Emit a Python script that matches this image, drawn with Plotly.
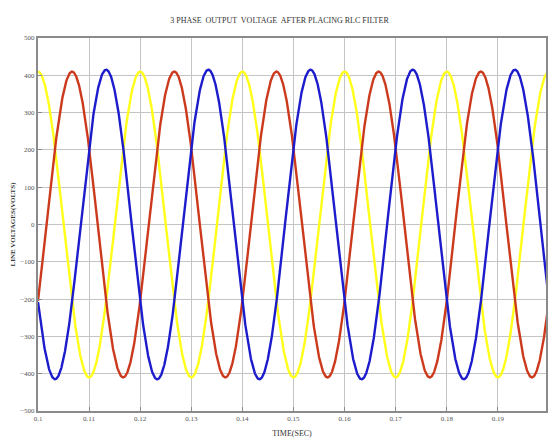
import numpy as np
import plotly.graph_objects as go

# Data: 50 Hz three-phase line voltages
freq_hz = 50
t_start, t_end = 0.1, 0.2
phase_names = ["Phase A", "Phase B", "Phase C"]
amplitudes = [410, 410, 415]           # peak volts (yellow, red, blue)
phase_deg = [0, -120, 120]             # phase relative to t = 0.1 s
colors = ["#ffff1a", "#cc3a1e", "#1c1ccc"]

x_ticks = [0.1, 0.11, 0.12, 0.13, 0.14, 0.15, 0.16, 0.17, 0.18, 0.19, 0.2]
x_tick_text = ["0.1", "0.11", "0.12", "0.13", "0.14", "0.15", "0.16", "0.17", "0.18", "0.19", "0.2"]
y_ticks = [500, 400, 300, 200, 100, 0, -100, -200, -300, -400, -500]

t = np.linspace(t_start, t_end, 2001)

fig = go.Figure()
for name, amp, ph, col in zip(phase_names, amplitudes, phase_deg, colors):
    v = amp * np.cos(2 * np.pi * freq_hz * (t - t_start) + np.deg2rad(ph))
    fig.add_trace(go.Scatter(x=t, y=v, mode="lines", name=name,
                             line=dict(color=col, width=2.4)))

serif = "Liberation Serif, Times New Roman, serif"
fig.update_layout(
    width=548, height=440,
    margin=dict(l=38, r=0, t=38, b=29),
    paper_bgcolor="white", plot_bgcolor="white",
    showlegend=False,
    title=dict(text="3 PHASE  OUTPUT  VOLTAGE  AFTER PLACING RLC FILTER",
               x=0.51, xanchor="center", y=0.955, yanchor="middle",
               font=dict(family=serif, size=8, color="#333")),
    font=dict(family=serif, size=7, color="#555"),
)
fig.update_xaxes(
    range=[0.1, 0.19942], tickvals=x_ticks, ticktext=x_tick_text,
    showgrid=True, gridcolor="#c4c4c4", gridwidth=1,
    showline=True, linecolor="#8a8a8a", linewidth=2, mirror=True,
    ticks="inside", ticklen=4, tickcolor="#8a8a8a",
    zeroline=False,
    title=dict(text="TIME(SEC)", font=dict(family=serif, size=8, color="#333"), standoff=8),
)
fig.update_yaxes(
    range=[-500, 500], tickvals=y_ticks,
    showgrid=True, gridcolor="#c4c4c4", gridwidth=1,
    showline=True, linecolor="#8a8a8a", linewidth=2, mirror=True,
    ticks="inside", ticklen=4, tickcolor="#8a8a8a",
    zeroline=False,
    title=dict(text="<b>LINE VOLTAGES(VOLTS)</b>", font=dict(family=serif, size=7, color="#333"), standoff=4),
)

fig.write_html("out.html")
